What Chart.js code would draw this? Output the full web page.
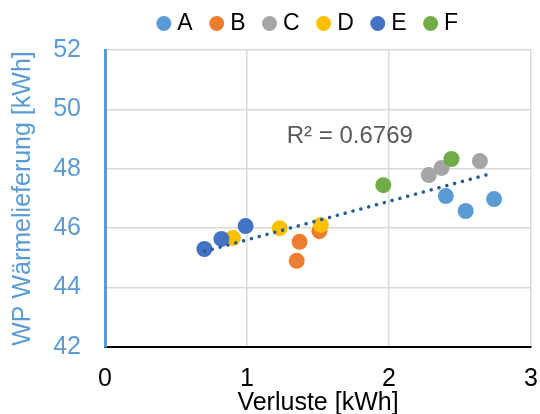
<!DOCTYPE html>
<html><head><meta charset="utf-8">
<script src="https://cdn.jsdelivr.net/npm/chart.js@4/dist/chart.umd.min.js"></script>
<style>html,body{margin:0;padding:0;background:#fff}#wrap{width:540px;height:414px}</style>
</head><body><div id="wrap"><canvas id="c" width="540" height="414"></canvas></div>
<script>
const seriesNames = ['A','B','C','D','E','F'];
const seriesColors = ['#5B9BD5','#ED7D31','#A5A5A5','#FFC000','#4472C4','#70AD47'];
const xA = [2.40, 2.54, 2.74], yA = [47.08, 46.58, 46.98];
const xB = [1.37, 1.35, 1.51], yB = [45.54, 44.90, 45.90];
const xC = [2.28, 2.37, 2.64], yC = [47.79, 48.03, 48.26];
const xD = [0.90, 1.23, 1.52], yD = [45.67, 46.00, 46.11];
const xE = [0.70, 0.82, 0.99], yE = [45.30, 45.64, 46.07];
const xF = [1.96, 2.44], yF = [47.45, 48.33];
const trendX = [0.70, 2.69], trendY = [45.22, 47.80];
const r2Label = 'R² = 0.6769';
const xTicks = [0,1,2,3], yTicks = [42,44,46,48,50,52];

const xs = [xA,xB,xC,xD,xE,xF], ys = [yA,yB,yC,yD,yE,yF];
const datasets = seriesNames.map((n,i)=>({
  label:n, data: xs[i].map((x,j)=>({x, y: ys[i][j]})),
  backgroundColor: seriesColors[i], borderColor: seriesColors[i],
  pointRadius: 8, pointHoverRadius: 8, pointBorderWidth: 0,
  order: seriesNames.length - i
}));
datasets.push({
  label:'trend', type:'line', data: trendX.map((x,j)=>({x, y: trendY[j]})),
  borderColor:'#255E91', borderWidth:3.5, borderDash:[0.1,8], borderCapStyle:'round',
  pointRadius:0, fill:false, order:-1
});
const r2Plugin = {
  id:'r2', afterDatasetsDraw(chart){
    const {ctx, scales:{x,y}} = chart;
    ctx.save(); ctx.fillStyle='#595959'; ctx.font='24px "Liberation Sans", Arial, sans-serif';
    ctx.textBaseline='middle'; ctx.textAlign='left';
    ctx.fillText(r2Label, x.getPixelForValue(1.28), y.getPixelForValue(49.1));
    ctx.restore();
  }
};
const legendFix = {
  id:'legendFix',
  afterInit(chart){
    const lg = chart.legend; const f = lg.fit.bind(lg);
    lg.fit = function(){ f(); this.height = 60; };
  },
  afterLayout(chart){
    const lg = chart.legend; const ca = chart.chartArea;
    lg.left = ca.left - 16; lg.right = ca.right; lg.width = lg.right - lg.left;
  }
};
Chart.defaults.font.family = '"Liberation Sans", Arial, sans-serif';
new Chart(document.getElementById('c'), {
  type:'scatter', data:{datasets},
  plugins:[r2Plugin, legendFix],
  options:{
    responsive:false, animation:false, devicePixelRatio:1,
    layout:{autoPadding:false, padding:{top:-10,right:9,left:8,bottom:0}},
    plugins:{
      tooltip:{enabled:false},
      legend:{position:'top', labels:{filter:(it)=>it.text!=='trend', sort:(a,b)=>a.datasetIndex-b.datasetIndex,
        usePointStyle:true, pointStyle:'circle',
        boxWidth:4, boxHeight:10.6, padding:22, color:'#000', font:{size:23}}}
    },
    scales:{
      x:{type:'linear', min:0, max:3, afterBuildTicks:(s)=>{s.ticks=xTicks.map(v=>({value:v}));},
        ticks:{color:'#000', font:{size:25}, padding:17},
        grid:{color:'#D9D9D9', lineWidth:1.5, drawTicks:false},
        border:{color:'#000', width:2},
        title:{display:true, text:'Verluste [kWh]', color:'#000', font:{size:25}, padding:{top:0,bottom:-4}},
        afterFit:(s)=>{s.height=67; s.paddingRight=0; s.paddingLeft=0;}
      },
      y:{type:'linear', min:42, max:52, afterBuildTicks:(s)=>{s.ticks=yTicks.map(v=>({value:v}));},
        ticks:{color:'#5B9BD5', font:{size:25}, padding:24},
        grid:{color:'#D9D9D9', lineWidth:1.5, drawTicks:false},
        border:{color:'#5B9BD5', width:3},
        title:{display:true, text:'WP Wärmelieferung [kWh]', color:'#5B9BD5', font:{size:25}, padding:{top:0,bottom:0}},
        afterFit:(s)=>{s.width=97;}
      }
    }
  }
});
</script></body></html>
